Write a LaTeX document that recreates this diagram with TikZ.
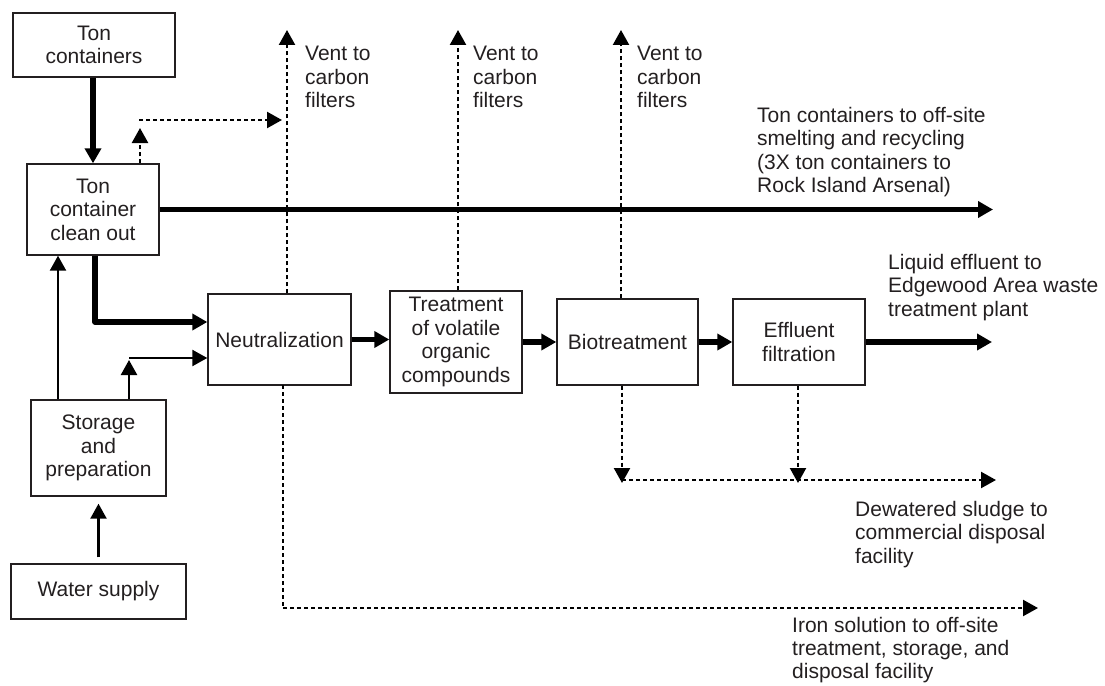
\documentclass[tikz,border=0pt]{standalone}
\usepackage{fontspec}
\setmainfont{Liberation Sans}
\usetikzlibrary{arrows.meta}
\definecolor{ink}{HTML}{231F20}
\newcommand{\lblfont}{\fontsize{21}{23.5}\selectfont}
\begin{document}
\begin{tikzpicture}[x=1pt,y=-1pt,
  every node/.style={text=ink, font=\lblfont},
  box/.style={draw=ink, line width=1.4pt, align=center, inner sep=2pt},
  note/.style={anchor=north west, align=left, inner sep=0pt},
  heavy/.style={line width=5.5pt, line join=round, -{Triangle[length=15pt,width=16pt]}},
  light/.style={line width=2.3pt, line join=round, -{Triangle[length=15pt,width=16pt]}},
  dots/.style={line width=2.3pt, dash pattern=on 4pt off 3pt, -{Triangle[length=15pt,width=16pt]}}]

\useasboundingbox (0,0) rectangle (1105,685);

% process boxes
\node[box, minimum width=162pt, minimum height=64pt] (tc) at (94,45) {Ton\\containers};
\node[box, minimum width=132pt, minimum height=91pt] (clean) at (93,209.5) {Ton\\container\\clean out};
\node[box, minimum width=143pt, minimum height=91pt] (neut) at (279.5,339.5) {Neutralization};
\node[box, minimum width=132pt, minimum height=102pt] (voc) at (456,342) {Treatment\\of volatile\\organic\\compounds};
\node[box, minimum width=141pt, minimum height=86pt] (bio) at (627.5,342) {Biotreatment};
\node[box, minimum width=132pt, minimum height=86pt] (eff) at (799,342) {Effluent\\filtration};
\node[box, minimum width=135pt, minimum height=96pt] (stor) at (98.5,448) {Storage\\and\\preparation};
\node[box, minimum width=175pt, minimum height=55pt] (water) at (98.5,591.5) {Water supply};

% free ends and bends of the connectors
\coordinate (offsite) at (993,209.5);
\coordinate (bendA) at (95,322);
\coordinate (feedL) at (58,399);
\coordinate (feedR) at (129,399);
\coordinate (feedT) at (129,358);
\coordinate (ventUp) at (140,128);
\coordinate (ventL) at (139,120);
\coordinate (ventR) at (282,120);
\coordinate (v1) at (287,30);
\coordinate (v2) at (458,30);
\coordinate (v3) at (621,30);
\coordinate (ironTop) at (283,385);
\coordinate (ironBend) at (283,608);
\coordinate (ironEnd) at (1038,608);
\coordinate (sludgeL) at (622,480);
\coordinate (sludgeR) at (996,480);
\coordinate (bioDown) at (622,480);
\coordinate (effDown) at (798,480);
\coordinate (liquid) at (992,342);

% main solid flows
\draw[heavy] (tc.south -| clean.north) -- (clean.north);
\draw[heavy] (clean.east) -- (offsite);
\draw[heavy] (clean.south -| bendA) -- (bendA) -- (bendA -| neut.west);
\draw[heavy] (neut.east) -- (neut.east -| voc.west);
\draw[heavy] (voc.east) -- (voc.east -| bio.west);
\draw[heavy] (bio.east) -- (bio.east -| eff.west);
\draw[heavy] (eff.east) -- (liquid);

\draw[light] (feedL) -- (feedL |- clean.south);
\draw[light] (feedR) -- ([yshift=-2pt]feedT);
\draw[light] (feedT) -- (feedT -| neut.west);
\draw[light, shorten <=6pt, shorten >=7pt] (water.north) -- (stor.south);

% vents and residue streams
\draw[dots] (clean.north -| ventUp) -- (ventUp);
\draw[dots] (ventL) -- (ventR);
\draw[dots] (neut.north -| v1) -- (v1);
\draw[dots] (voc.north -| v2) -- (v2);
\draw[dots] (bio.north -| v3) -- (v3);
\draw[dots, -] (ironTop) -- (ironBend);
\draw[dots] (ironBend) -- (ironEnd);
\draw[dots] (bio.south -| bioDown) -- ([yshift=-3pt]bioDown);
\draw[dots] (eff.south -| effDown) -- ([yshift=-3pt]effDown);
\draw[dots] (sludgeL) -- (sludgeR);

% stream labels
\node[note] (vt1) at (305,46) {Vent to\\carbon\\filters};
\node[note] (vt2) at (473,46) {Vent to\\carbon\\filters};
\node[note] (vt3) at (637,46) {Vent to\\carbon\\filters};
\node[note] (offtxt) at (757,107) {Ton containers to off-site\\smelting and recycling\\(3X ton containers to\\Rock Island Arsenal)};
\node[note] (liqtxt) at (888,254) {Liquid effluent to\\Edgewood Area waste\\treatment plant};
\node[note] (sludtxt) at (855,501) {Dewatered sludge to\\commercial disposal\\facility};
\node[note, font=\fontsize{21}{23}\selectfont] (irontxt) at (792,617) {Iron solution to off-site\\treatment, storage, and\\disposal facility};

\end{tikzpicture}
\end{document}
